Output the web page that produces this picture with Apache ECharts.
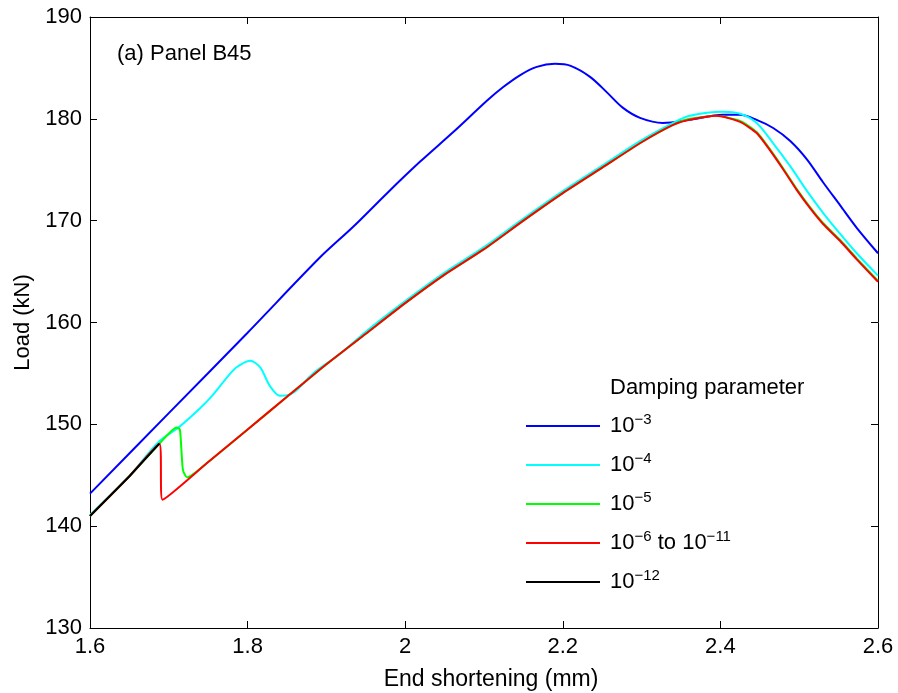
<!DOCTYPE html>
<html style="height: 100%">
<head>
    <meta charset="utf-8">
    <script src="https://cdn.jsdelivr.net/npm/echarts@6/dist/echarts.min.js"></script>
</head>
<body style="height: 100%; margin: 0; background: #fff">
    <div id="container" style="width: 898px; height: 693px"></div>
    <script type="text/javascript">
        // end shortening (mm), load (kN)
        var damp3 = [
            [1.6, 143.2], [1.7, 151.1], [1.8, 159.0], [1.892, 166.4], [1.934, 169.4],
            [1.977, 172.7], [2.019, 175.8], [2.061, 178.7], [2.104, 181.8], [2.124, 183.1],
            [2.146, 184.3], [2.167, 185.1], [2.19, 185.4], [2.21, 185.2], [2.235, 184.1],
            [2.256, 182.6], [2.276, 181.1], [2.298, 180.1], [2.327, 179.6], [2.361, 179.9],
            [2.403, 180.4], [2.425, 180.4], [2.446, 179.9], [2.467, 179.1], [2.489, 177.8],
            [2.51, 176.0], [2.53, 173.8], [2.552, 171.5], [2.573, 169.3], [2.6, 166.8]
        ];
        var damp4 = [
            [1.6, 141.1], [1.65, 144.9], [1.686, 148.2], [1.714, 149.8], [1.74, 151.6],
            [1.756, 152.9], [1.775, 154.7], [1.786, 155.6], [1.803, 156.25], [1.816, 155.6],
            [1.828, 153.8], [1.841, 152.8], [1.858, 153.1], [1.883, 155.0], [1.917, 156.9],
            [1.95, 159.1], [2.0, 162.1], [2.05, 164.9], [2.1, 167.4], [2.15, 170.2],
            [2.2, 172.9], [2.25, 175.4], [2.3, 177.9], [2.34, 179.6], [2.361, 180.3],
            [2.403, 180.7], [2.425, 180.5], [2.446, 179.6], [2.467, 177.6], [2.489, 175.3],
            [2.51, 172.9], [2.53, 170.8], [2.552, 168.7], [2.573, 166.8], [2.6, 164.6]
        ];
        var damp5 = [
            [1.6, 141.0], [1.65, 144.9], [1.688, 148.1], [1.71, 149.7], [1.714, 149.5],
            [1.716, 147.5], [1.718, 145.5], [1.723, 144.8], [1.75, 146.3], [1.8, 149.5],
            [1.85, 152.7], [1.9, 155.9], [1.95, 158.9], [2.0, 161.9], [2.05, 164.7],
            [2.1, 167.2], [2.15, 170.0], [2.2, 172.7], [2.25, 175.2], [2.3, 177.7],
            [2.34, 179.4], [2.361, 180.0], [2.395, 180.3], [2.425, 179.8], [2.446, 178.7],
            [2.463, 177.0], [2.48, 175.1], [2.497, 173.1], [2.514, 171.3], [2.53, 169.8],
            [2.552, 168.1], [2.573, 166.3], [2.6, 164.1]
        ];
        var damp6to11 = [
            [1.6, 141.0], [1.65, 144.9], [1.688, 148.1], [1.692, 142.6], [1.75, 146.3],
            [1.8, 149.5], [1.85, 152.7], [1.9, 155.9], [1.95, 158.9], [2.0, 161.9],
            [2.05, 164.7], [2.1, 167.2], [2.15, 170.0], [2.2, 172.7], [2.25, 175.2],
            [2.3, 177.7], [2.34, 179.4], [2.361, 179.9], [2.395, 180.3], [2.425, 179.7],
            [2.446, 178.6], [2.463, 176.9], [2.48, 175.0], [2.497, 173.0], [2.514, 171.2],
            [2.53, 169.7], [2.552, 168.0], [2.573, 166.2], [2.6, 164.0]
        ];
        var damp12 = [
            [1.6, 141.0], [1.65, 144.9], [1.688, 148.1]
        ];

        var seriesNames = ['10^-3', '10^-4', '10^-5', '10^-6 to 10^-11', '10^-12'];
        var seriesData = [damp3, damp4, damp5, damp6to11, damp12];
        var seriesColors = ['#0000ff', '#00ffff', '#00ff00', '#ff0000', '#000000'];
        var seriesSmooth = [0.3, 0.3, 0.2, 0.2, false];

        var xTicks = { min: 1.6, max: 2.6, interval: 0.2 };
        var yTicks = { min: 130, max: 190, interval: 10 };

        var FONT = 'Liberation Sans, Arial, Helvetica, sans-serif';

        var dom = document.getElementById("container");
        var myChart = echarts.init(dom);

        // '10^-3' -> rich text with a raised exponent
        function legendText(name) {
            var parts = name.split(/(\^-\d+)/);
            return parts.filter(function (p) { return p !== ''; }).map(function (p) {
                if (p.charAt(0) === '^') return '{s|' + p.replace('^-', '\u2212') + '}';
                return '{b|' + p + '}';
            }).join('');
        }

        function axisBase(pos, r, labels) {
            return {
                type: 'value',
                position: pos,
                min: r.min,
                max: r.max,
                interval: r.interval,
                splitLine: { show: false },
                axisLine: { show: true, onZero: false, lineStyle: { color: '#000', width: 1 } },
                axisTick: { show: true, inside: true, length: 7, lineStyle: { color: '#000' } },
                axisLabel: {
                    show: labels,
                    color: '#000',
                    fontFamily: FONT,
                    fontSize: 22,
                    margin: 8,
                    showMinLabel: true,
                    showMaxLabel: true,
                    formatter: function (v) { return String(+v.toFixed(1)); }
                }
            };
        }

        var xMain = axisBase('bottom', xTicks, true);
        xMain.name = 'End shortening (mm)';
        xMain.nameLocation = 'middle';
        xMain.nameGap = 40;
        xMain.nameTextStyle = { color: '#000', fontFamily: FONT, fontSize: 23, padding: [0, 0, 0, 14] };
        var yMain = axisBase('left', yTicks, true);
        yMain.name = 'Load (kN)';
        yMain.nameLocation = 'middle';
        yMain.nameGap = 55;
        yMain.nameTextStyle = { color: '#000', fontFamily: FONT, fontSize: 22 };

        var option = {
            animation: false,
            backgroundColor: '#fff',
            grid: { left: 90, right: 20, top: 17, bottom: 65, containLabel: false, outerBoundsMode: 'none' },
            xAxis: [xMain, axisBase('top', xTicks, false)],
            yAxis: [yMain, axisBase('right', yTicks, false)],
            legend: {
                orient: 'vertical',
                left: 526,
                top: 412,
                padding: 0,
                itemWidth: 74,
                itemHeight: 24,
                itemGap: 11,
                icon: 'path://M0,11 L74,11 L74,13 L0,13 Z',
                data: seriesNames,
                formatter: legendText,
                textStyle: {
                    padding: [0, 0, 0, 5],
                    lineHeight: 28,
                    rich: {
                        b: { fontSize: 22, fontFamily: FONT, color: '#000', lineHeight: 28 },
                        s: { fontSize: 15, fontFamily: FONT, color: '#000', lineHeight: 12, verticalAlign: 'top' }
                    }
                }
            },
            graphic: [{
                type: 'text',
                left: 117,
                top: 43,
                style: { text: '(a) Panel B45', font: '22px ' + FONT, fill: '#000' }
            }, {
                type: 'text',
                left: 610,
                top: 377,
                style: { text: 'Damping parameter', font: '22px ' + FONT, fill: '#000' }
            }],
            series: seriesNames.map(function (name, i) {
                return {
                    name: name,
                    type: 'line',
                    data: seriesData[i],
                    symbol: 'none',
                    showSymbol: false,
                    smooth: seriesSmooth[i],
                    color: seriesColors[i],
                    itemStyle: { color: seriesColors[i] },
                    lineStyle: { color: seriesColors[i], width: 2 },
                    z: 2 + i
                };
            })
        };

        myChart.setOption(option);
    </script>
</body>
</html>
